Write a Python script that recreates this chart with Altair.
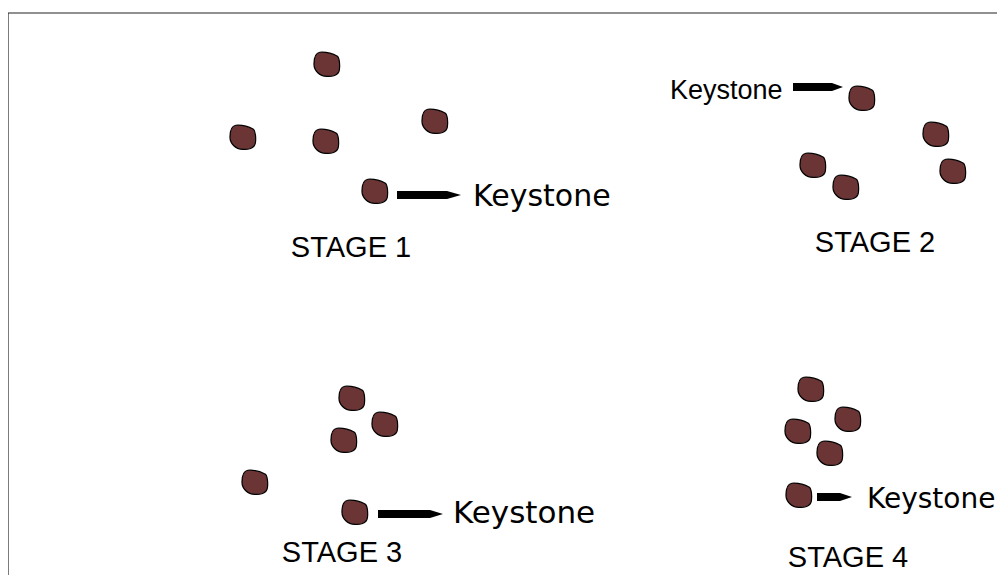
import altair as alt
import pandas as pd

# ---- data (diagram coordinates) ----
pebble_stage = ["1"] * 5 + ["2"] * 5 + ["3"] * 5 + ["4"] * 5
pebble_x = [327, 243, 326, 435, 375,
            862, 936, 813, 846, 953,
            352, 385, 344, 255, 355,
            811, 848, 798, 830, 799]
pebble_y = [64, 137, 141, 121, 191,
            98, 134, 165, 187, 171,
            398, 424, 440, 482, 512,
            389, 419, 431, 453, 495]

arrow_id = ["1", "2", "3", "4"]
arrow_start = [397, 793, 378, 817]
arrow_neck = [447, 832, 430, 840]
arrow_tip = [461, 843, 443, 852]
arrow_y = [195, 87, 514, 497]

stage_text = ["STAGE 1", "STAGE 2", "STAGE 3", "STAGE 4"]
stage_x = [351, 875, 342, 848]
stage_y = [257, 252, 562, 567]

key_text = ["Keystone", "Keystone", "Keystone", "Keystone"]
key_x = [473, 670, 453, 867]
key_y = [206, 99, 523, 508]
key_font = ["DejaVu Sans", "Liberation Sans", "DejaVu Sans", "DejaVu Sans"]
key_size = [30, 27, 31, 28]

frame_x = [8, 8]
frame_x2 = [1005, 8]
frame_y = [13, 13]
frame_y2 = [13, 575]

# ---- tables ----
pebbles = pd.DataFrame({"stage": pebble_stage, "x": pebble_x, "y": pebble_y})

HALF = 4
rows = []
for a, s, n, t, c in zip(arrow_id, arrow_start, arrow_neck, arrow_tip, arrow_y):
    rows.append({"arrow": a, "x": s, "y": c - HALF, "y2": c + HALF})
    rows.append({"arrow": a, "x": n, "y": c - HALF, "y2": c + HALF})
    rows.append({"arrow": a, "x": t, "y": c, "y2": c})
arrows = pd.DataFrame(rows)

stages = pd.DataFrame({"text": stage_text, "x": stage_x, "y": stage_y})
keys = pd.DataFrame({"text": key_text, "x": key_x, "y": key_y,
                     "font": key_font, "size": key_size})
frame = pd.DataFrame({"x": frame_x, "x2": frame_x2, "y": frame_y, "y2": frame_y2})

xs = alt.Scale(domain=[8, 997])
ys = alt.Scale(domain=[8, 575], reverse=True)
X = lambda f: alt.X(f, type="quantitative", scale=xs, axis=None)
Y = lambda f: alt.Y(f, type="quantitative", scale=ys, axis=None)

PEBBLE = ("M -0.55,-0.9 Q 0.15,-0.95 0.8,-0.6 "
          "C 0.97,-0.45 1.0,0.15 0.95,0.45 "
          "C 0.88,0.9 0.35,0.98 0.0,0.95 "
          "C -0.6,0.92 -1.0,0.5 -1.0,0.0 "
          "C -1.0,-0.45 -0.85,-0.85 -0.55,-0.9 Z")

frame_layer = alt.Chart(frame).mark_rule(color="#222222", strokeWidth=1.2).encode(
    x=X("x"), x2="x2", y=Y("y"), y2="y2")

arrow_layer = alt.Chart(arrows).mark_area(color="black", opacity=1).encode(
    x=X("x"), y=Y("y"), y2="y2", detail="arrow:N")

pebble_layer = alt.Chart(pebbles).mark_point(
    shape=PEBBLE, filled=True, fill="#6b3535", stroke="black",
    strokeWidth=1.2, size=680, opacity=1).encode(x=X("x"), y=Y("y"))

stage_layer = alt.Chart(stages).mark_text(
    font="Liberation Sans", fontSize=29, align="center", baseline="alphabetic",
    color="black").encode(x=X("x"), y=Y("y"), text="text:N")

key_layers = []
for f, sz in sorted(set(zip(key_font, key_size))):
    sub = keys[(keys["font"] == f) & (keys["size"] == sz)]
    key_layers.append(alt.Chart(sub).mark_text(
        font=f, fontSize=sz, align="left", baseline="alphabetic",
        color="black").encode(x=X("x"), y=Y("y"), text="text:N"))

chart = alt.layer(frame_layer, arrow_layer, pebble_layer, stage_layer, *key_layers).properties(
    width=989, height=567, padding=0, background="white",
    autosize=alt.AutoSizeParams(type="none")
).configure_view(stroke=None)

chart.save("out.html", embed_options={"renderer": "svg", "actions": False})
